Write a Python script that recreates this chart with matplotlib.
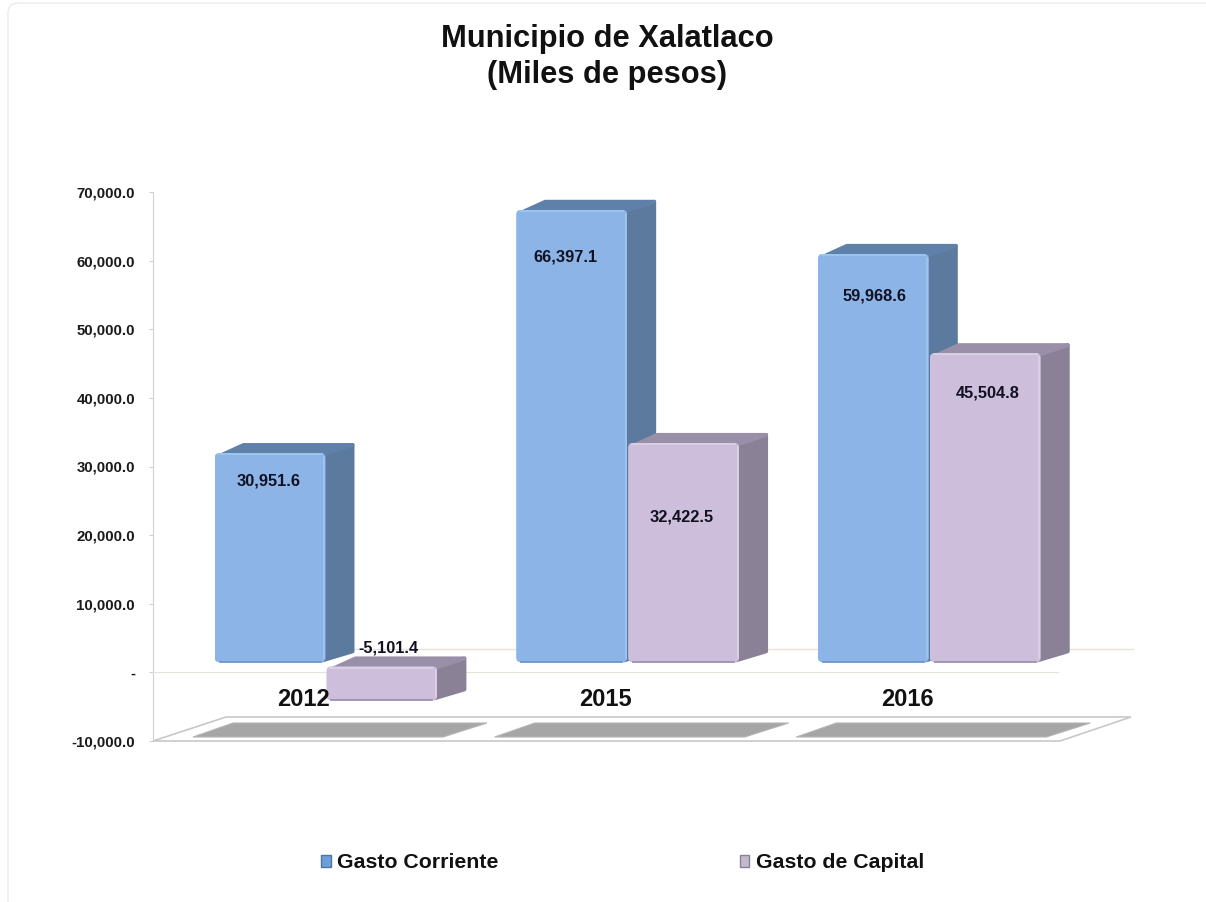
import numpy as np
import matplotlib
matplotlib.use("Agg")
import matplotlib.pyplot as plt
from matplotlib.patches import Polygon, FancyBboxPatch, Patch
from matplotlib.transforms import IdentityTransform

plt.rcParams['font.family'] = ['Liberation Sans', 'DejaVu Sans']

# data
years = ["2012", "2015", "2016"]
gasto_corriente = [30951.6, 66397.1, 59968.6]
gasto_capital = [-5101.4, 32422.5, 45504.8]
y_ticks = [-10000, 0, 10000, 20000, 30000, 40000, 50000, 60000, 70000]
y_tick_labels = ["-10,000.0", "-", "10,000.0", "20,000.0", "30,000.0", "40,000.0",
                 "50,000.0", "60,000.0", "70,000.0"]
# label offset from top of bar, pixels
offs_corriente = [(-1, -28), (-6, -47), (1, -42)]
offs_capital = [(6, 18), (-2, -74), (2, -40)]

W, H = 1206, 902
L, R, T, B = 153, 1058, 192, 741

fig = plt.figure(figsize=(W/100, H/100), dpi=100, facecolor="white")
ax = fig.add_axes([L/W, 1-B/H, (R-L)/W, (B-T)/H])
ax.set_xlim(-0.5, 2.5)
ax.set_ylim(-10000, 70000)
ax.patch.set_visible(False)

ux = 3.0/(R-L)       # x units per pixel
uy = 80000.0/(B-T)   # y units per pixel

def data_xy(px, py):
    return (-0.5+(px-L)*ux, (B-py)*uy-10000)

# faint rounded frame of the original picture (pixel coords)
fig.add_artist(FancyBboxPatch((8, -30), W+40, H+30-3, boxstyle="round,pad=0,rounding_size=10",
                              transform=IdentityTransform(), fc="none", ec="#EDEDED", lw=1.1))

# axes
for s in ["top", "right"]:
    ax.spines[s].set_visible(False)
ax.spines["left"].set_color("#D0D0D0")
ax.spines["left"].set_zorder(1)
ax.spines["bottom"].set_position(("data", 0))
ax.spines["bottom"].set_color("#E6E4D8")
ax.spines["bottom"].set_zorder(1)
ax.set_yticks(y_ticks)
ax.set_yticklabels(y_tick_labels, fontsize=10.8, fontweight="bold", color="#1A1A1A")
ax.tick_params(axis="y", length=3, color="#D0D0D0", pad=10)
ax.set_xticks(range(3))
ax.set_xticklabels(years, fontsize=17, fontweight="bold", color="#111111")
ax.tick_params(axis="x", length=0, pad=11.5)
ax.set_axisbelow(True)
ax.xaxis.set_zorder(5)

# back wall line and floor
p = [data_xy(340, 649), data_xy(1133, 649)]
ax.plot([p[0][0], p[1][0]], [p[0][1], p[1][1]], color="#E6E4D8", lw=1, zorder=0.5, clip_on=False)
floor = [data_xy(153, 741), data_xy(226, 717), data_xy(1131, 717), data_xy(1060, 741)]
ax.add_patch(Polygon(floor, closed=True, fc="white", ec="#C8C8C8", lw=1.2, zorder=0.6, clip_on=False))
for i in range(3):
    sh = [(193, 737), (233, 723), (487, 723), (443, 737)]
    sh = [data_xy(a+i*(R-L)/3.0, b) for a, b in sh]
    ax.add_patch(Polygon(sh, closed=True, fc="#A6A6A6", ec="#B4B4B4", lw=0.8, zorder=0.7, clip_on=False))

bar_w = 111*ux
dep_x = 29*ux
dep_y = 10*uy
lift = 7*uy

def bars3d(vals, shift, front, side, top, light, dark, z, offs):
    vals = np.array(vals)
    x = np.arange(3)+shift
    base = np.where(vals > 0, 10*uy, 6*uy)
    bars = ax.bar(x, vals+lift-base, width=bar_w, bottom=base, color=front, zorder=z+0.1)
    for i, r in enumerate(bars):
        x0, w = r.get_x(), r.get_width()
        y0, y1 = sorted([r.get_y(), r.get_y()+r.get_height()])
        x1 = x0+w
        sx = x1+dep_x-2*ux
        ax.add_patch(Polygon([(x1-3*ux, y0+2*uy), (sx, y0+dep_y+1*uy), (sx, y1+dep_y-2*uy), (x1-3*ux, y1-2*uy)],
                             closed=True, fc=side, ec=side, lw=2.8, joinstyle="round", zorder=z, clip_on=False))
        ax.add_patch(Polygon([(x0+7*ux, y1-2*uy), (x0+dep_x, y1+dep_y-2*uy), (sx, y1+dep_y-2*uy), (x1-3*ux, y1-2*uy)],
                             closed=True, fc=top, ec=top, lw=2.8, joinstyle="round", zorder=z, clip_on=False))
        rnd = FancyBboxPatch((x0, y0), w, y1-y0, boxstyle="round,pad=0,rounding_size=%f" % (5*ux),
                             mutation_aspect=uy/ux, transform=ax.transData)
        r.set_clip_path(rnd)
        # bevel lines
        ax.plot([x1-1.5*ux]*2, [y0+4*uy, y1-4*uy], color=light, lw=1.2, zorder=z+0.15)
        ax.plot([x0+4*ux, x1-4*ux], [y1-1.2*uy]*2, color=light, lw=1.2, zorder=z+0.15)
        ax.plot([x0+5*ux, x1-5*ux], [y0+0.8*uy]*2, color=dark, lw=1.3, zorder=z+0.15)
        txt = format(vals[i], ",.1f")
        ax.annotate(txt, (x0+w/2, y1), xytext=offs[i], textcoords="offset pixels", ha="center",
                    va="center", fontsize=11.8, fontweight="bold", color="#111122", zorder=6,
                    annotation_clip=False)
    return bars

bars3d(gasto_corriente, -0.112, "#8CB4E6", "#5B7A9E", "#5F80A8", "#A0C6F0", "#6C96CB", 2.0, offs_corriente)
bars3d(gasto_capital, 0.259, "#CDBEDC", "#8A8196", "#9A8FA8", "#DCD2E8", "#9C90B0", 2.4, offs_capital)

fig.text(607/W, 1-57/H, "Municipio de Xalatlaco\n(Miles de pesos)", ha="center", va="center",
         fontsize=22.2, fontweight="bold", color="#111111", linespacing=1.25)

handles = [Patch(fc="#6F9FD8", ec="#4A76A8", lw=1), Patch(fc="#C3BBCB", ec="#8A8196", lw=1)]
fig.legend(handles, ["Gasto Corriente", "Gasto de Capital"], loc="center", ncol=2,
           bbox_to_anchor=(622.5/W, 1-863/H), frameon=False, handlelength=0.45, handleheight=0.45,
           handletextpad=0.3, columnspacing=11.35,
           prop={"size": 15.3, "weight": "bold"}, labelcolor="#111111")

fig.savefig("out.png", dpi=100)
